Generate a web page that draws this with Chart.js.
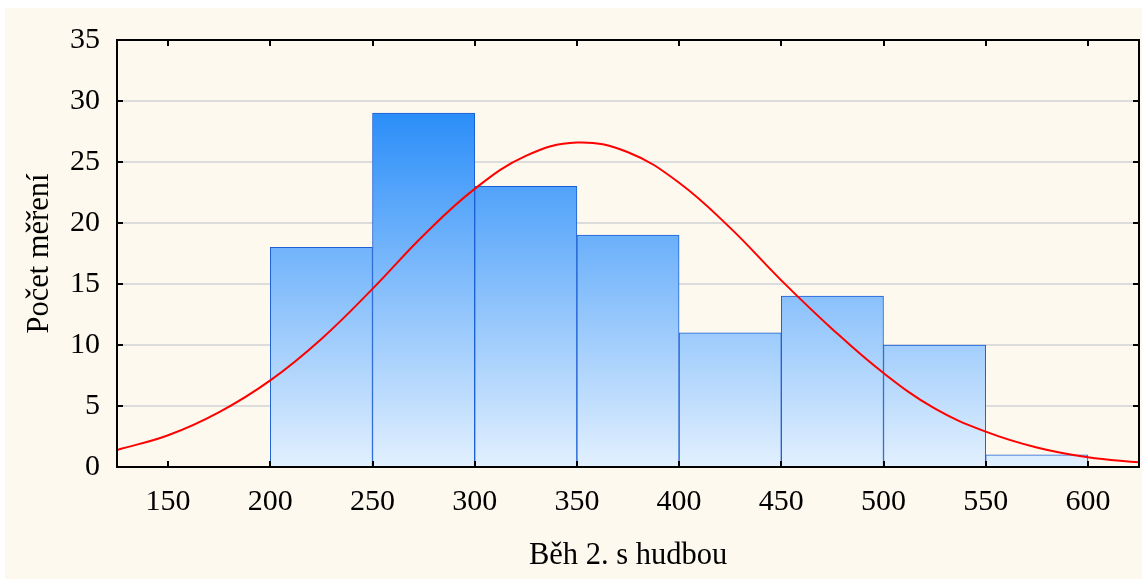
<!DOCTYPE html>
<html>
<head>
<meta charset="utf-8">
<script src="https://cdn.jsdelivr.net/npm/chart.js@4.4.1/dist/chart.umd.min.js"></script>
<style>
  html, body { margin: 0; padding: 0; background: #ffffff; }
  #bg { position: absolute; left: 5px; top: 8px; width: 1137px; height: 571px; background: #fdf9ee; }
  #wrap { position: absolute; left: 0; top: 0; width: 1142px; height: 579px; }
</style>
</head>
<body>
<div id="bg"></div>
<div id="wrap"><canvas id="chart" width="1142" height="579"></canvas></div>
<script>
// histogram bins (Běh 2. s hudbou)
const binStarts = [200, 250, 300, 350, 400, 450, 500, 550];
const binWidth = 50;
const counts = [18, 29, 23, 19, 11, 14, 10, 1];

// red normal curve
const curveX = [125, 150, 175, 200, 225, 250, 275, 300, 325, 350, 375, 400, 425, 450, 475, 500, 525, 550, 575, 600, 625];
const curveY = [1.4, 2.6, 4.5, 7.1, 10.5, 14.6, 19.0, 22.8, 25.5, 26.6, 25.8, 23.3, 19.6, 15.3, 11.3, 7.7, 4.8, 2.9, 1.6, 0.8, 0.38];

const xTicks = [150, 200, 250, 300, 350, 400, 450, 500, 550, 600];
const yTicks = [0, 5, 10, 15, 20, 25, 30, 35];

const FONT = "'Liberation Serif', 'Times New Roman', serif";

function barGradient(ctx) {
    const chart = ctx.chart;
    const area = chart.chartArea;
    if (!area) return '#8cc4fc';
    const y = chart.scales.y;
    const g = chart.ctx.createLinearGradient(0, y.getPixelForValue(0), 0, y.getPixelForValue(29));
    g.addColorStop(0, '#e2f0fe');
    g.addColorStop(1, '#2b8ef9');
    return g;
}

// black frame with inward ticks on all four sides
const framePlugin = {
    id: 'frame',
    afterDraw(chart) {
        const { ctx, chartArea: a, scales } = chart;
        ctx.save();
        ctx.strokeStyle = '#000';
        ctx.lineWidth = 2;
        ctx.strokeRect(a.left, a.top, a.right - a.left, a.bottom - a.top);
        ctx.beginPath();
        xTicks.forEach(v => {
            const px = Math.round(scales.x.getPixelForValue(v));
            ctx.moveTo(px, a.bottom); ctx.lineTo(px, a.bottom - 6);
            ctx.moveTo(px, a.top); ctx.lineTo(px, a.top + 6);
        });
        yTicks.forEach(v => {
            const py = Math.round(scales.y.getPixelForValue(v));
            ctx.moveTo(a.left, py); ctx.lineTo(a.left + 6, py);
            ctx.moveTo(a.right, py); ctx.lineTo(a.right - 6, py);
        });
        ctx.stroke();
        ctx.restore();
    }
};

new Chart(document.getElementById('chart'), {
    type: 'bar',
    data: {
        datasets: [
            {
                type: 'line',
                data: curveX.map((x, i) => ({ x: x, y: curveY[i] })),
                borderColor: '#ff0000',
                borderWidth: 2,
                pointRadius: 0,
                tension: 0.4,
                fill: false,
                order: 0
            },
            {
                type: 'bar',
                data: binStarts.map((s, i) => ({ x: s + binWidth / 2, y: counts[i] })),
                backgroundColor: barGradient,
                borderColor: '#1d5fd4',
                borderWidth: 1,
                barPercentage: 1,
                categoryPercentage: 1,
                order: 1
            }
        ]
    },
    options: {
        responsive: false,
        animation: false,
        layout: { padding: { top: 40, right: 3, left: 0, bottom: 0 } },
        plugins: { legend: { display: false }, tooltip: { enabled: false } },
        scales: {
            x: {
                type: 'linear',
                min: 125,
                max: 625,
                offset: false,
                grid: { display: false, drawTicks: false },
                border: { display: false },
                afterBuildTicks(scale) { scale.ticks = xTicks.map(v => ({ value: v })); },
                afterFit(scale) { scale.height = 112; },
                ticks: { color: '#000', font: { family: FONT, size: 30 }, padding: 17, maxRotation: 0 },
                title: { display: true, text: 'Běh 2. s hudbou', color: '#000', font: { family: FONT, size: 30.5 }, padding: { top: 0, bottom: 5 } }
            },
            y: {
                min: 0,
                max: 35,
                grid: { color: '#dcdcdc', lineWidth: 2, drawTicks: false },
                border: { display: false },
                afterBuildTicks(scale) { scale.ticks = yTicks.map(v => ({ value: v })); },
                afterFit(scale) { scale.width = 117; },
                ticks: { color: '#000', font: { family: FONT, size: 30 }, padding: 17 },
                title: { display: true, text: 'Počet měření', color: '#000', font: { family: FONT, size: 30.5 }, padding: { top: 22, bottom: 0 } }
            }
        }
    },
    plugins: [framePlugin]
});
</script>
</body>
</html>
